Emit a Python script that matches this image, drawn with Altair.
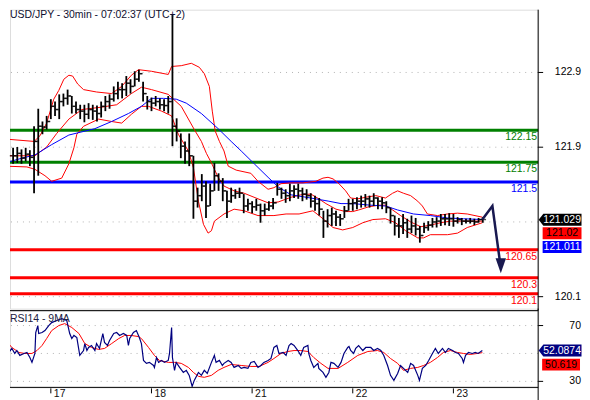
import altair as alt
import pandas as pd

FONT = "Liberation Sans"

TITLE = "USD/JPY - 30min - 07:02:37 (UTC+2)"
RSI_TITLE = "RSI14 - 9MA"

# hourly bars, t = hours from the "17" tick (trading time)
BAR_T = list(range(-9, 104))
HIGH = [121.93, 121.94, 121.91, 121.93, 121.90, 122.20, 122.42, 122.26, 122.33,
        122.54, 122.51, 122.60, 122.61, 122.66, 122.58, 122.51, 122.47, 122.47, 122.49,
        122.47, 122.46, 122.51, 122.58, 122.60, 122.70, 122.76, 122.74, 122.83, 122.79,
        122.89, 122.91, 122.76, 122.58, 122.56, 122.58, 122.55, 122.54, 122.58, 123.60,
        122.30, 122.11, 122.01, 122.11, 121.83, 121.43, 121.60, 121.51, 121.48, 121.74,
        121.61, 121.55, 121.39, 121.43, 121.41, 121.43, 121.35, 121.29, 121.26, 121.29,
        121.23, 121.23, 121.26, 121.30, 121.49, 121.43, 121.41, 121.48, 121.46, 121.48,
        121.43, 121.41, 121.36, 121.33, 121.30, 121.14, 121.16, 121.18, 121.14, 121.10,
        121.20, 121.29, 121.29, 121.31, 121.33, 121.35, 121.33, 121.36, 121.31, 121.31,
        121.26, 121.18, 121.08, 121.05, 121.10, 121.04, 121.08, 121.05, 120.95, 120.99,
        121.01, 121.05, 121.06, 121.10, 121.10, 121.11, 121.10, 121.06, 121.05, 121.04,
        121.05, 121.04, 121.05, 121.06]
LOW = [121.73, 121.74, 121.73, 121.76, 121.70, 121.36, 121.58, 122.10, 122.16,
       122.29, 122.33, 122.29, 122.45, 122.47, 122.36, 122.36, 122.29, 122.25, 122.29,
       122.28, 122.26, 122.31, 122.39, 122.42, 122.51, 122.54, 122.55, 122.58, 122.61,
       122.70, 122.76, 122.51, 122.41, 122.39, 122.45, 122.41, 122.39, 122.36, 121.95,
       122.01, 121.80, 121.73, 121.70, 121.04, 121.18, 121.26, 121.05, 121.20, 121.39,
       121.39, 121.26, 121.05, 121.24, 121.29, 121.30, 121.11, 121.14, 121.11, 121.14,
       120.99, 121.08, 121.14, 121.16, 121.33, 121.29, 121.24, 121.26, 121.30, 121.29,
       121.26, 121.28, 121.18, 121.14, 121.08, 120.80, 120.93, 120.95, 120.95, 120.95,
       121.05, 121.14, 121.14, 121.16, 121.18, 121.19, 121.18, 121.20, 121.16, 121.16,
       121.11, 120.98, 120.83, 120.80, 120.85, 120.80, 120.86, 120.83, 120.74, 120.86,
       120.89, 120.93, 120.93, 120.95, 120.96, 120.95, 120.94, 120.98, 120.96, 120.98,
       120.98, 120.96, 120.99, 120.99]
CLOSE = [121.83, 121.86, 121.80, 121.85, 121.81, 122.01, 122.20, 122.19, 122.26,
         122.45, 122.41, 122.51, 122.55, 122.58, 122.45, 122.41, 122.39, 122.35, 122.41,
         122.39, 122.36, 122.45, 122.51, 122.54, 122.61, 122.66, 122.66, 122.74, 122.70,
         122.79, 122.86, 122.61, 122.51, 122.49, 122.51, 122.47, 122.46, 122.51, 122.20,
         122.14, 121.95, 121.89, 121.83, 121.26, 121.33, 121.45, 121.20, 121.39, 121.58,
         121.51, 121.39, 121.26, 121.33, 121.36, 121.36, 121.20, 121.23, 121.19, 121.21,
         121.14, 121.16, 121.20, 121.24, 121.41, 121.36, 121.33, 121.39, 121.41, 121.39,
         121.35, 121.33, 121.26, 121.23, 121.16, 121.01, 121.08, 121.10, 121.06, 121.04,
         121.14, 121.23, 121.24, 121.26, 121.26, 121.29, 121.26, 121.30, 121.26, 121.24,
         121.18, 121.08, 120.95, 120.95, 120.99, 120.91, 120.95, 120.91, 120.83, 120.93,
         120.96, 121.00, 121.01, 121.04, 121.04, 121.04, 121.01, 121.03, 121.01, 121.01,
         121.01, 121.00, 121.03, 121.03]

UPPER = [(-10.9, 122.04), (-4.0, 122.01), (-2.6, 122.08), (-1.0, 122.24), (0.7, 122.54),
         (1.9, 122.65), (3.1, 122.79), (4.3, 122.84), (5.2, 122.83), (6.4, 122.73),
         (7.8, 122.66), (10.9, 122.63), (14.5, 122.61), (16.9, 122.70), (19.2, 122.84),
         (20.9, 122.91), (24.0, 122.89), (28.0, 122.85), (28.8, 122.95), (31.1, 122.96),
         (33.5, 122.99), (35.4, 122.94), (36.6, 122.86), (37.8, 122.70), (38.5, 122.39),
         (39.2, 122.14), (40.2, 122.01), (41.3, 121.89), (42.3, 121.70), (44.2, 121.65),
         (47.7, 121.61), (49.4, 121.51), (51.8, 121.41), (53.2, 121.43), (54.9, 121.48),
         (57.3, 121.49), (60.1, 121.49), (63.2, 121.51), (64.9, 121.55), (66.1, 121.56),
         (67.3, 121.54), (68.7, 121.48), (70.3, 121.39), (71.5, 121.30), (73.2, 121.29),
         (75.1, 121.31), (77.5, 121.33), (79.8, 121.30), (81.5, 121.36), (82.7, 121.39),
         (84.1, 121.36), (85.8, 121.33), (87.5, 121.26), (88.6, 121.20), (89.8, 121.10),
         (92.2, 121.08), (94.6, 121.10), (97.0, 121.11), (99.3, 121.10), (102.9, 121.06)]
MIDDLE = [(-10.9, 121.83), (-3.8, 121.83), (-1.0, 121.94), (1.4, 122.11), (4.3, 122.29),
          (7.4, 122.41), (12.1, 122.44), (15.7, 122.47), (19.2, 122.61), (21.6, 122.69),
          (24.0, 122.66), (28.0, 122.60), (31.1, 122.45), (34.2, 122.16), (35.9, 122.01),
          (37.1, 121.86), (38.3, 121.74), (39.9, 121.56), (41.3, 121.45), (43.7, 121.39),
          (46.1, 121.36), (49.4, 121.29), (51.8, 121.24), (54.2, 121.25), (57.3, 121.31),
          (59.6, 121.34), (62.0, 121.35), (63.9, 121.29), (65.6, 121.23), (68.0, 121.16),
          (70.3, 121.13), (72.0, 121.13), (73.4, 121.15), (75.8, 121.19), (78.2, 121.21),
          (79.8, 121.21), (81.5, 121.15), (83.4, 121.08), (85.8, 121.00), (88.2, 120.94),
          (90.5, 120.96), (92.9, 120.99), (95.3, 121.01), (97.7, 121.01), (100.0, 121.01),
          (102.9, 121.01)]
LOWER = [(-10.9, 121.70), (-5.7, 121.69), (-3.8, 121.66), (-1.4, 121.58), (0.2, 121.51),
         (2.6, 121.55), (4.3, 121.73), (5.5, 121.93), (6.2, 122.10), (7.8, 122.20),
         (11.4, 122.29), (14.5, 122.26), (16.9, 122.24), (19.2, 122.35), (21.6, 122.45),
         (23.3, 122.45), (26.4, 122.39), (28.8, 122.33), (30.4, 122.10), (32.8, 121.89),
         (34.0, 121.68), (35.2, 121.26), (36.4, 120.97), (37.5, 120.86), (38.3, 120.89),
         (39.0, 121.01), (41.3, 121.10), (43.7, 121.16), (46.1, 121.14), (49.4, 121.08),
         (53.2, 121.08), (56.1, 121.10), (59.2, 121.10), (62.5, 121.14), (64.9, 121.04),
         (67.3, 120.93), (69.6, 120.90), (72.0, 120.93), (74.4, 120.99), (76.8, 121.03),
         (79.8, 121.04), (82.2, 120.99), (84.6, 120.89), (87.5, 120.80), (88.9, 120.80),
         (90.5, 120.84), (94.6, 120.84), (97.0, 120.86), (99.3, 120.93), (102.9, 120.99)]
SLOW_MA = [(-10.9, 121.74), (-6.9, 121.80), (-3.8, 121.84), (0.2, 121.97), (4.3, 122.09),
           (10.5, 122.17), (14.5, 122.26), (18.5, 122.36), (21.6, 122.45), (24.0, 122.55),
           (26.9, 122.55), (29.9, 122.54), (32.3, 122.49), (35.9, 122.36), (39.9, 122.17),
           (43.0, 122.01), (45.4, 121.89), (48.5, 121.73), (51.8, 121.56), (54.2, 121.44),
           (57.3, 121.34), (62.0, 121.30), (66.3, 121.26), (69.2, 121.23), (72.0, 121.23),
           (76.3, 121.21), (79.8, 121.20), (82.7, 121.15), (86.5, 121.10), (90.5, 121.08),
           (94.6, 121.05), (98.4, 121.04), (102.9, 121.03)]

RSI = [(-10.7, 47.1), (-10.0, 50.7), (-9.3, 53.6), (-8.6, 50.0), (-8.1, 52.1), (-7.4, 48.6),
       (-6.4, 50.0), (-5.7, 50.7), (-5.0, 47.1), (-4.5, 43.6), (-3.8, 50.0), (-3.6, 65.0),
       (-3.1, 70.0), (-2.9, 64.3), (-2.1, 65.0), (-1.4, 66.4), (-0.5, 70.0), (0.2, 72.1),
       (1.4, 73.6), (2.6, 75.0), (3.8, 73.6), (4.5, 64.3), (5.0, 60.7), (5.5, 62.9),
       (6.2, 61.4), (6.9, 48.6), (7.8, 52.1), (8.1, 57.1), (8.6, 52.1), (9.0, 54.3),
       (9.7, 55.7), (10.5, 52.1), (10.9, 57.1), (11.6, 53.6), (12.4, 64.3), (12.8, 57.9),
       (13.5, 55.7), (14.0, 59.3), (15.0, 64.3), (15.7, 65.0), (16.4, 62.9), (17.3, 64.3),
       (18.1, 62.9), (18.5, 55.7), (18.8, 60.7), (19.7, 65.0), (20.4, 66.4), (21.1, 61.4),
       (21.6, 57.1), (22.1, 45.0), (22.8, 42.9), (23.5, 43.6), (24.5, 41.4), (24.7, 40.0),
       (25.2, 47.1), (25.7, 43.6), (26.4, 45.0), (27.1, 43.6), (28.0, 45.0), (28.3, 50.0),
       (28.8, 68.6), (29.0, 47.1), (29.5, 37.9), (29.9, 43.6), (30.7, 40.0), (31.6, 36.4),
       (32.3, 37.9), (33.0, 34.3), (33.7, 26.4), (34.2, 30.7), (35.2, 36.4), (35.9, 34.3),
       (36.6, 37.9), (37.3, 35.7), (38.3, 43.6), (39.0, 48.6), (39.4, 43.6), (40.2, 45.0),
       (40.9, 41.4), (41.3, 42.9), (42.3, 45.0), (43.0, 43.6), (43.7, 40.0), (44.7, 41.4),
       (45.4, 39.3), (46.1, 40.0), (47.0, 39.3), (47.7, 43.6), (48.5, 44.3), (49.4, 40.0),
       (50.1, 41.4), (50.8, 43.6), (51.8, 45.0), (52.5, 46.4), (53.2, 54.3), (53.9, 55.7),
       (54.4, 50.0), (55.4, 50.7), (56.1, 48.6), (56.8, 55.7), (57.3, 57.1), (58.0, 55.7),
       (58.9, 52.1), (59.6, 48.6), (60.3, 54.3), (61.3, 55.7), (61.5, 50.0), (62.0, 45.0),
       (62.7, 40.0), (63.7, 42.9), (63.9, 39.3), (64.9, 36.4), (65.6, 32.9), (66.3, 36.4),
       (66.8, 43.6), (67.5, 42.9), (68.5, 40.0), (69.2, 43.6), (69.9, 50.0), (70.8, 54.3),
       (71.1, 55.0), (71.5, 52.1), (72.2, 50.0), (72.7, 53.6), (73.4, 55.7), (74.4, 52.1),
       (75.1, 54.3), (76.3, 54.3), (77.0, 52.1), (77.9, 53.6), (78.7, 52.1), (79.4, 48.6),
       (80.3, 41.4), (81.0, 34.3), (81.8, 30.7), (82.7, 35.7), (83.4, 41.4), (84.1, 39.3),
       (85.1, 36.4), (85.8, 42.9), (86.5, 41.4), (87.5, 34.3), (87.9, 30.7), (88.6, 39.3),
       (89.4, 41.4), (90.1, 45.0), (91.0, 50.0), (91.7, 53.6), (92.4, 50.0), (93.4, 53.6),
       (94.1, 50.7), (94.8, 53.6), (95.8, 52.1), (96.5, 50.7), (97.2, 50.0), (98.1, 46.4),
       (98.4, 43.6), (98.9, 48.6), (99.6, 50.7), (100.5, 50.0), (101.2, 50.7), (101.9, 50.0),
       (102.9, 52.1)]
RSI_MA = [(-10.7, 59.3), (-9.3, 54.3), (-7.6, 50.7), (-6.2, 50.0), (-4.5, 50.0), (-3.3, 52.1),
          (-2.1, 55.7), (-1.0, 60.7), (0.2, 66.4), (1.9, 70.0), (3.3, 71.4), (5.0, 68.6),
          (6.7, 64.3), (8.1, 57.1), (9.7, 54.3), (11.4, 52.9), (12.8, 53.6), (14.5, 57.1),
          (16.2, 60.7), (17.6, 62.9), (19.2, 62.9), (20.9, 62.1), (21.6, 60.7), (23.3, 54.3),
          (24.7, 48.6), (25.9, 45.0), (28.0, 43.6), (29.5, 43.6), (31.1, 42.9), (32.8, 40.0),
          (34.0, 36.4), (35.2, 33.6), (36.6, 32.9), (38.3, 34.3), (39.9, 37.9), (41.3, 40.0),
          (43.0, 42.1), (45.4, 41.4), (47.7, 40.7), (49.7, 40.7), (51.8, 43.6), (53.2, 46.4),
          (54.9, 50.0), (56.5, 51.4), (58.0, 52.1), (59.6, 52.1), (61.3, 51.4), (62.7, 47.1),
          (64.4, 42.9), (66.1, 39.3), (68.5, 39.3), (70.8, 43.6), (73.2, 48.6), (75.6, 51.4),
          (77.9, 52.1), (79.4, 50.7), (81.0, 46.4), (82.7, 42.9), (84.1, 37.9), (85.8, 39.3),
          (87.5, 40.0), (88.9, 41.4), (90.5, 43.6), (92.2, 47.1), (93.6, 50.7), (95.3, 52.1),
          (97.0, 50.7), (98.4, 50.0), (100.0, 49.3), (101.7, 50.0), (102.9, 50.6)]

LEVELS = [122.15, 121.75, 121.5, 120.65, 120.3, 120.1]
LEVEL_TEXT = ["122.15", "121.75", "121.5", "120.65", "120.3", "120.1"]

ARROW = [(102.9, 121.03), (105.3, 121.20), (107.1, 120.50)]
ARROW_HEAD = [(107.3, 120.45)]

LAST_PRICE = [121.029]
BID_PRICE = [121.02]
ASK_PRICE = [121.011]
RSI_LAST = [52.0874]
RSI_MA_LAST = [50.619]

PRICE_TICKS = [122.875, 121.9375, 120.0625]
PRICE_TICK_LABELS = ["122.9", "121.9", "120.1"]
PRICE_GRID = [122.875, 121.9375, 121.0, 120.0625]
RSI_TICKS = [70, 30]
RSI_TICK_LABELS = ["70", "30"]
RSI_GRID = [70, 50, 30]
DAY_TICKS = [0, 24, 48, 72, 96]
DAY_LABELS = ["17", "18", "21", "22", "23"]

# ---------------- styles ----------------
LEVEL_COLORS = ["#008000", "#008000", "#0000ff", "#ff0000", "#ff0000", "#ff0000"]
ARROW_BOX = "M-1,0L-0.78,-0.28L1,-0.28L1,0.28L-0.78,0.28Z"
RECT_BOX = "M-1,-0.31L1,-0.31L1,0.31L-1,0.31Z"
TRI = "M-0.7,-1L0.7,-1L0,1Z"

bars = pd.DataFrame({"t": BAR_T, "high": HIGH, "low": LOW, "close": CLOSE})
bars["open"] = [CLOSE[0]] + CLOSE[:-1]


def pts(p):
    return pd.DataFrame(p, columns=["t", "v"])


def vals(v, s=None):
    d = pd.DataFrame({"v": v})
    d["s"] = s if s is not None else [str(x) for x in v]
    return d


xs = alt.Scale(domain=[-9.74, 116.21], nice=False, zero=False)
ps = alt.Scale(domain=[119.9125, 123.6625], nice=False, zero=False)
rs = alt.Scale(domain=[25.7, 80.7], nice=False, zero=False)
X = alt.X("t:Q", scale=xs, axis=None)
PY = alt.Y("v:Q", scale=ps, axis=None)
RY = alt.Y("v:Q", scale=rs, axis=None)
one = pd.DataFrame({"a": [0]})

grid = alt.Chart(vals(PRICE_GRID)).mark_rule(color="#b4b4b4", strokeDash=[1, 5]).encode(y=PY)

lev = pd.DataFrame({"v": LEVELS, "label": LEVEL_TEXT})
lev_color = alt.Color("label:N", scale=alt.Scale(domain=LEVEL_TEXT, range=LEVEL_COLORS), legend=None)
level_rules = alt.Chart(lev).mark_rule(strokeWidth=3).encode(y=PY, color=lev_color)
level_text = alt.Chart(lev).mark_text(align="right", baseline="middle", dy=7, font=FONT,
                                      fontSize=10.5).encode(
    x=alt.value(529), y=PY, text="label:N", color=lev_color)

band_layers = [
    alt.Chart(pts(p)).mark_line(color=c, strokeWidth=1, clip=True).encode(x=X, y=PY)
    for p, c in [(UPPER, "#ff0000"), (MIDDLE, "#ff0000"), (LOWER, "#ff0000"), (SLOW_MA, "#0000ff")]
]

bar_rules = alt.Chart(bars).mark_rule(color="#000", strokeWidth=1.8).encode(
    x=X, y=alt.Y("low:Q", scale=ps, axis=None), y2="high:Q")
close_ticks = alt.Chart(bars).mark_tick(orient="horizontal", color="#000", thickness=1.4,
                                        size=2.8, xOffset=1.9).encode(
    x=X, y=alt.Y("close:Q", scale=ps, axis=None))
open_ticks = alt.Chart(bars).mark_tick(orient="horizontal", color="#000", thickness=1.4,
                                       size=2.8, xOffset=-1.9).encode(
    x=X, y=alt.Y("open:Q", scale=ps, axis=None))

arrow = alt.Chart(pts(ARROW)).mark_line(color="#191950", strokeWidth=2.5).encode(x=X, y=PY)
arrow_head = alt.Chart(pts(ARROW_HEAD)).mark_point(shape=TRI, size=225, filled=True,
                                                   color="#191950", opacity=1).encode(x=X, y=PY)

title = alt.Chart(pd.DataFrame({"s": [TITLE]})).mark_text(
    align="left", baseline="top", font=FONT, fontSize=10.5, color="#101030").encode(
    x=alt.value(0), y=alt.value(0), text="s:N")

# right-hand price axis (drawn with marks)
main_axis_line = alt.Chart(one).mark_rule(color="#000").encode(
    x=alt.value(530), y=alt.value(0), y2=alt.value(302))
price_ticks = alt.Chart(vals(PRICE_TICKS)).mark_rule(color="#000").encode(
    x=alt.value(530), x2=alt.value(535), y=PY)
price_labels = alt.Chart(vals(PRICE_TICKS, PRICE_TICK_LABELS)).mark_text(
    align="right", baseline="middle", font=FONT, fontSize=10.5, color="#000").encode(
    x=alt.value(573), y=PY, text="s:N")

last_box = alt.Chart(vals(LAST_PRICE)).mark_point(shape=ARROW_BOX, size=1849, filled=True,
                                                  color="#000", opacity=1).encode(
    x=alt.value(552), y=PY)
last_txt = alt.Chart(vals(LAST_PRICE, ["121.029"])).mark_text(
    font=FONT, fontSize=10.5, color="#fff", align="center", baseline="middle").encode(
    x=alt.value(554), y=PY, text="s:N")
bid_box = alt.Chart(vals(BID_PRICE)).mark_point(shape=RECT_BOX, size=1521, filled=True,
                                                color="#ff0000", opacity=1, yOffset=13).encode(
    x=alt.value(554), y=PY)
bid_txt = alt.Chart(vals(BID_PRICE, ["121.02"])).mark_text(
    font=FONT, fontSize=10.5, color="#000", align="center", baseline="middle", yOffset=13).encode(
    x=alt.value(554), y=PY, text="s:N")
ask_box = alt.Chart(vals(ASK_PRICE)).mark_point(shape=RECT_BOX, size=1521, filled=True,
                                                color="#0000ff", opacity=1, yOffset=26).encode(
    x=alt.value(554), y=PY)
ask_txt = alt.Chart(vals(ASK_PRICE, ["121.011"])).mark_text(
    font=FONT, fontSize=10.5, color="#fff", align="center", baseline="middle", yOffset=26).encode(
    x=alt.value(554), y=PY, text="s:N")

main = alt.layer(
    grid, level_rules, *band_layers, bar_rules, close_ticks, open_ticks, arrow, arrow_head,
    level_text, title, main_axis_line, price_ticks, price_labels,
    last_box, last_txt, bid_box, bid_txt, ask_box, ask_txt
).properties(width=530, height=300)

# ---------------- RSI panel ----------------
rsi_grid = alt.Chart(vals(RSI_GRID)).mark_rule(color="#b4b4b4", strokeDash=[1, 5]).encode(y=RY)
rsi_line = alt.Chart(pts(RSI)).mark_line(color="#000080", strokeWidth=1.2, clip=True).encode(
    x=X, y=RY)
rsi_ma = alt.Chart(pts(RSI_MA)).mark_line(color="#ff0000", strokeWidth=1, clip=True).encode(
    x=X, y=RY)
top_border = alt.Chart(one).mark_rule(color="#000", strokeWidth=1).encode(
    x=alt.value(0), x2=alt.value(530), y=alt.value(0))
bottom_border = alt.Chart(one).mark_rule(color="#000", strokeWidth=1).encode(
    x=alt.value(0), x2=alt.value(530), y=alt.value(77))
right_border = alt.Chart(one).mark_rule(color="#000", strokeWidth=1).encode(
    x=alt.value(530), y=alt.value(-2), y2=alt.value(90))
rsi_ticks = alt.Chart(vals(RSI_TICKS)).mark_rule(color="#000").encode(
    x=alt.value(530), x2=alt.value(535), y=RY)
rsi_labels = alt.Chart(vals(RSI_TICKS, RSI_TICK_LABELS)).mark_text(
    align="right", baseline="middle", font=FONT, fontSize=10.5, color="#000").encode(
    x=alt.value(573), y=RY, text="s:N")
days = pd.DataFrame({"t": DAY_TICKS, "s": DAY_LABELS})
day_ticks = alt.Chart(days).mark_rule(color="#000").encode(
    x=X, y=alt.value(78), y2=alt.value(83))
day_labels = alt.Chart(days).mark_text(align="left", baseline="middle", dx=3, font=FONT,
                                       fontSize=10.5, color="#111").encode(
    x=X, y=alt.value(84), text="s:N")
rsi_title = alt.Chart(pd.DataFrame({"s": [RSI_TITLE]})).mark_text(
    align="left", baseline="middle", font=FONT, fontSize=10.5, color="#202040").encode(
    x=alt.value(0), y=alt.value(8), text="s:N")
rsi_box = alt.Chart(vals(RSI_LAST)).mark_point(shape=ARROW_BOX, size=1849, filled=True,
                                               color="#000080", opacity=1).encode(
    x=alt.value(552), y=RY)
rsi_txt = alt.Chart(vals(RSI_LAST, ["52.0874"])).mark_text(
    font=FONT, fontSize=10.5, color="#fff", align="center", baseline="middle").encode(
    x=alt.value(554), y=RY, text="s:N")
rsima_box = alt.Chart(vals(RSI_MA_LAST)).mark_point(shape=RECT_BOX, size=1444, filled=True,
                                                    color="#ff0000", opacity=1, yOffset=12).encode(
    x=alt.value(553), y=RY)
rsima_txt = alt.Chart(vals(RSI_MA_LAST, ["50.619"])).mark_text(
    font=FONT, fontSize=10.5, color="#000", align="center", baseline="middle", yOffset=12).encode(
    x=alt.value(553), y=RY, text="s:N")

rsi_panel = alt.layer(
    rsi_grid, rsi_ma, rsi_line, top_border, bottom_border, right_border, rsi_ticks, rsi_labels,
    day_ticks, day_labels, rsi_title, rsi_box, rsi_txt, rsima_box, rsima_txt
).properties(width=530, height=77)

chart = alt.vconcat(main, rsi_panel, spacing=2, bounds="flush").properties(
    padding=0
).configure_view(stroke=None).configure(font=FONT)

chart.save("out.html", embed_options={"renderer": "svg", "actions": False})
